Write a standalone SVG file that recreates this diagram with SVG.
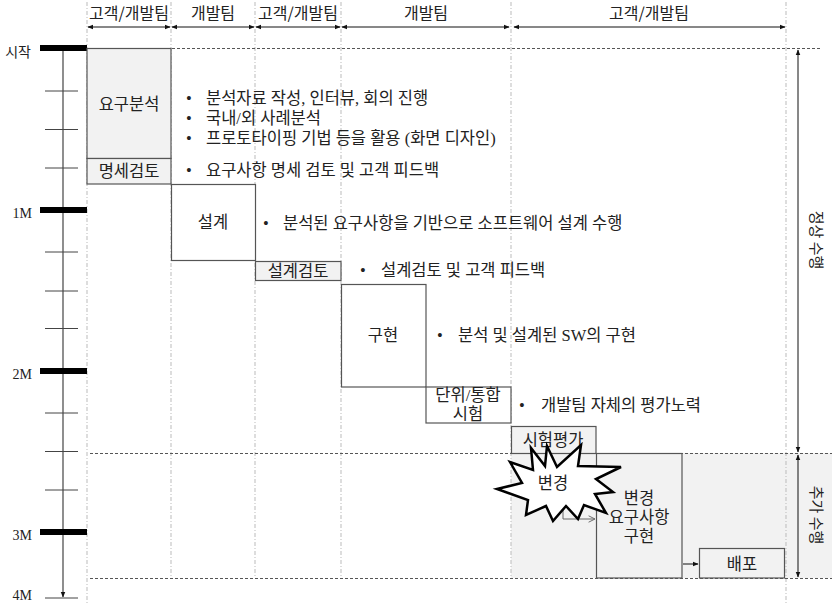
<svg xmlns="http://www.w3.org/2000/svg" width="832" height="603" viewBox="0 0 832 603">
<style>
.hdr{font-family:"Noto Sans CJK KR","Liberation Sans",sans-serif;font-size:16px;fill:#222;text-anchor:middle}
.side{font-family:"Noto Sans CJK KR","Liberation Sans",sans-serif;font-size:15px;fill:#222;text-anchor:middle}
.lbl{font-family:"Liberation Serif","Noto Sans CJK KR",serif;font-size:16.5px;fill:#222;text-anchor:middle}
.blt{font-family:"Liberation Serif","Noto Sans CJK KR",serif;font-size:16.5px;fill:#222}
.ax{font-family:"Liberation Serif","Noto Sans CJK KR",serif;font-size:14px;fill:#222;text-anchor:end}
.col{stroke:#bbb;stroke-width:1;stroke-dasharray:4,2,1,2;fill:none}
.dash{stroke:#555;stroke-width:1;stroke-dasharray:3,2;fill:none}
.box{stroke:#555;stroke-width:1.2;fill:#fff}
.gbox{stroke:#555;stroke-width:1.2;fill:#f2f2f2}
.tick{stroke:#444;stroke-width:1}
.bar{fill:#000}
.arr{stroke:#111;stroke-width:1;fill:none}
</style>
<defs>
<marker id="ah" viewBox="0 0 10 10" refX="9" refY="5" markerWidth="6" markerHeight="6" orient="auto-start-reverse" markerUnits="userSpaceOnUse"><path d="M0,1 L10,5 L0,9 z" fill="#111"/></marker>
<marker id="oh" viewBox="0 0 10 10" refX="9" refY="5" markerWidth="8" markerHeight="8" orient="auto" markerUnits="userSpaceOnUse"><path d="M1,1 L9,5 L1,9" fill="none" stroke="#666" stroke-width="1.2"/></marker>
</defs>

<!-- shaded additional-work region -->
<rect x="511" y="453" width="321" height="125" fill="#f2f2f2"/>

<!-- column guide lines -->
<g id="columns">
<line class="col" x1="87" y1="2" x2="87" y2="603"/>
<line class="col" x1="171" y1="2" x2="171" y2="578"/>
<line class="col" x1="255" y1="2" x2="255" y2="578"/>
<line class="col" x1="341" y1="2" x2="341" y2="578"/>
<line class="col" x1="511" y1="2" x2="511" y2="578"/>
<line class="col" x1="786" y1="2" x2="786" y2="603"/>
</g>

<!-- horizontal dashed lines -->
<g id="phase-lines">
<line class="dash" x1="87" y1="48.5" x2="820" y2="48.5"/>
<line class="dash" x1="90" y1="453.5" x2="832" y2="453.5"/>
<line class="dash" x1="90" y1="578.5" x2="832" y2="578.5"/>
</g>

<!-- header -->
<g id="header">
<text class="hdr" x="129" y="19">고객/개발팀</text>
<text class="hdr" x="213" y="19">개발팀</text>
<text class="hdr" x="298" y="19">고객/개발팀</text>
<text class="hdr" x="426" y="19">개발팀</text>
<text class="hdr" x="649" y="19">고객/개발팀</text>
</g>

<!-- time axis -->
<g id="axis">
<line x1="63" y1="48" x2="63" y2="597" stroke="#444" stroke-width="1.2" marker-end="url(#ah)"/>
<rect class="bar" x="40" y="45" width="47" height="6"/>
<rect class="bar" x="40" y="207" width="47" height="6"/>
<rect class="bar" x="40" y="368" width="47" height="6"/>
<rect class="bar" x="40" y="529" width="47" height="6"/>
<line class="tick" x1="45" y1="91" x2="78" y2="91"/>
<line class="tick" x1="45" y1="129.5" x2="78" y2="129.5"/>
<line class="tick" x1="45" y1="168" x2="78" y2="168"/>
<line class="tick" x1="45" y1="252" x2="78" y2="252"/>
<line class="tick" x1="45" y1="291" x2="78" y2="291"/>
<line class="tick" x1="45" y1="328.5" x2="78" y2="328.5"/>
<line class="tick" x1="45" y1="413" x2="78" y2="413"/>
<line class="tick" x1="45" y1="451.5" x2="78" y2="451.5"/>
<line class="tick" x1="45" y1="490" x2="78" y2="490"/>
<line class="tick" x1="45" y1="598" x2="78" y2="598"/>
<text class="ax" x="31" y="57">시작</text>
<text class="ax" x="32" y="218">1M</text>
<text class="ax" x="32" y="379">2M</text>
<text class="ax" x="32" y="540">3M</text>
<text class="ax" x="32" y="600">4M</text>
</g>

<!-- connectors -->
<g id="connectors">
<line class="arr" x1="88" y1="27" x2="170" y2="27" marker-start="url(#ah)" marker-end="url(#ah)"/>
<line class="arr" x1="172" y1="27" x2="254" y2="27" marker-start="url(#ah)" marker-end="url(#ah)"/>
<line class="arr" x1="256" y1="27" x2="340" y2="27" marker-start="url(#ah)" marker-end="url(#ah)"/>
<line class="arr" x1="342" y1="27" x2="509" y2="27" marker-start="url(#ah)" marker-end="url(#ah)"/>
<line class="arr" x1="514" y1="27" x2="785" y2="27" marker-start="url(#ah)" marker-end="url(#ah)"/>
<line class="arr" x1="798" y1="50" x2="798" y2="452" marker-start="url(#ah)" marker-end="url(#ah)"/>
<line class="arr" x1="798" y1="455" x2="798" y2="577" marker-start="url(#ah)" marker-end="url(#ah)"/>
<line class="arr" x1="683" y1="564" x2="698" y2="564" marker-end="url(#ah)"/>
<polyline points="563,505 563,519 595,519" fill="none" stroke="#666" stroke-width="1" marker-end="url(#oh)"/>
</g>

<!-- nodes -->
<g id="req-analysis">
<rect class="gbox" x="87" y="48.5" width="84" height="110"/>
<text class="lbl" x="129" y="110">요구분석</text>
</g>
<g id="spec-review">
<rect class="gbox" x="87" y="158.5" width="84" height="25.5"/>
<text class="lbl" x="129" y="177">명세검토</text>
</g>
<g id="design">
<rect class="box" x="171.5" y="184.5" width="84" height="76"/>
<text class="lbl" x="213" y="228">설계</text>
</g>
<g id="design-review">
<rect class="gbox" x="255.5" y="261.5" width="85.5" height="19"/>
<text class="lbl" x="298" y="277">설계검토</text>
</g>
<g id="implementation">
<rect class="box" x="341.5" y="284.5" width="84.5" height="102.5"/>
<text class="lbl" x="383" y="341">구현</text>
</g>
<g id="unit-test">
<rect class="box" x="426" y="387" width="85" height="36"/>
<text class="lbl" x="468" y="401">단위/통합</text>
<text class="lbl" x="468" y="420">시험</text>
</g>
<g id="test-eval">
<rect class="gbox" x="511.5" y="426.5" width="84.5" height="27"/>
<text class="lbl" x="553" y="446">시험평가</text>
</g>
<g id="change-impl">
<rect class="gbox" x="596.5" y="453.5" width="85.5" height="124.5"/>
<text class="lbl" x="639" y="504">변경</text>
<text class="lbl" x="639" y="523">요구사항</text>
<text class="lbl" x="639" y="542">구현</text>
</g>
<g id="deploy">
<rect class="gbox" x="699.5" y="548.5" width="85" height="29.5"/>
<text class="lbl" x="742" y="570">배포</text>
</g>
<g id="change-burst">
<polygon points="547,446 557,467 581,445 578,466 621,467 596,479 613,492 595,494 606,513 584,505 578,519 566,506 553,521 546,506 526,515 528,500 497,489 522,483 510,462 533,470 531,448 545,466" fill="#fff" stroke="#000" stroke-width="2.5" stroke-linejoin="miter"/>
<text class="lbl" x="553" y="489">변경</text>
</g>

<!-- descriptions -->
<g id="notes">
<text class="blt" x="186" y="104">•</text><text class="blt" x="206" y="104">분석자료 작성, 인터뷰, 회의 진행</text>
<text class="blt" x="186" y="124">•</text><text class="blt" x="206" y="124">국내/외 사례분석</text>
<text class="blt" x="186" y="144">•</text><text class="blt" x="206" y="144">프로토타이핑 기법 등을 활용 (화면 디자인)</text>
<text class="blt" x="186" y="176">•</text><text class="blt" x="206" y="176">요구사항 명세 검토 및 고객 피드백</text>
<text class="blt" x="263" y="229">•</text><text class="blt" x="283" y="229">분석된 요구사항을 기반으로 소프트웨어 설계 수행</text>
<text class="blt" x="360" y="276">•</text><text class="blt" x="381" y="276">설계검토 및 고객 피드백</text>
<text class="blt" x="437" y="341">•</text><text class="blt" x="458" y="341">분석 및 설계된 SW의 구현</text>
<text class="blt" x="519" y="411">•</text><text class="blt" x="541" y="411">개발팀 자체의 평가노력</text>
</g>

<g id="phase-labels">
<text class="side" transform="translate(811,240) rotate(90)">정상 수행</text>
<text class="side" transform="translate(811,515) rotate(90)">추가 수행</text>
</g>
</svg>
